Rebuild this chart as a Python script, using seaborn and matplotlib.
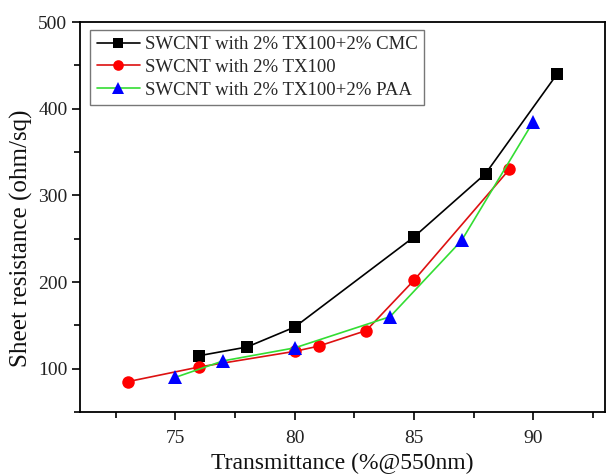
import matplotlib
matplotlib.use("Agg")
import matplotlib.pyplot as plt
from matplotlib.ticker import MultipleLocator
import seaborn as sns
import pandas as pd

# Sheet resistance vs. transmittance for three SWCNT dispersions
cmc_t = [76, 78, 80, 85, 88, 91]
cmc_r = [115, 125, 148, 252, 325, 440]

tx_t = [73, 76, 80, 81, 83, 85, 89]
tx_r = [85, 102, 120, 126, 144, 202, 330]

paa_t = [75, 77, 80, 84, 87, 90]
paa_r = [90, 109, 124, 160, 248, 385]

labels = ["SWCNT with 2% TX100+2% CMC",
          "SWCNT with 2% TX100",
          "SWCNT with 2% TX100+2% PAA"]

sns.set_theme(style="ticks")
plt.rcParams["font.family"] = ["Liberation Serif", "DejaVu Serif"]

fig = plt.figure(figsize=(6.06, 4.75), dpi=100)
ax = fig.add_axes([0.132, 0.1326, 0.866, 0.821])

series = [
    (cmc_t, cmc_r, labels[0], "black", "black", "s", 8),
    (tx_t, tx_r, labels[1], "#dd1111", "#ff0000", "o", 9),
    (paa_t, paa_r, labels[2], "#33dd33", "#0000ff", "^", 10),
]

for t, r, lab, lc, mc, mk, ms in series:
    df = pd.DataFrame({"t": t, "r": r})
    sns.lineplot(data=df, x="t", y="r", ax=ax, sort=False, color=lc,
                 linewidth=1.2, marker=mk, markersize=ms,
                 markerfacecolor=mc, markeredgecolor=mc, markeredgewidth=0,
                 label=lab)

ax.set_xlim(71, 93)
ax.set_ylim(50, 500)
ax.xaxis.set_major_locator(MultipleLocator(5))
ax.xaxis.set_minor_locator(MultipleLocator(2.5))
ax.yaxis.set_minor_locator(MultipleLocator(50))
ax.set_yticks([100, 200, 300, 400, 500])

ax.tick_params(axis="both", which="major", direction="out", length=6,
               width=1.2, labelsize=14, color="black", labelcolor="#222222")
ax.tick_params(axis="x", which="major", pad=7)
ax.tick_params(axis="y", which="major", pad=3)
ax.tick_params(axis="both", which="minor", direction="out", length=4,
               width=1.2, color="black")
for s in ax.spines.values():
    s.set_linewidth(1.3)
    s.set_color("black")

ax.set_xlabel("Transmittance (%@550nm)", fontsize=17, labelpad=4,
              color="#111111")
ax.set_ylabel("Sheet resistance (ohm/sq)", fontsize=18, color="#111111")
ax.yaxis.set_label_coords(-0.09, 0.445)

leg = ax.legend(loc="upper left", bbox_to_anchor=(0.009, 0.995),
                fontsize=13.5, frameon=True, fancybox=False,
                handlelength=2.3, handletextpad=0.25, borderpad=0.35,
                labelspacing=0.3, borderaxespad=0.3, markerscale=0.85)
leg.get_frame().set_edgecolor("#555555")
leg.get_frame().set_linewidth(1.0)

fig.savefig("out.png", dpi=100)
